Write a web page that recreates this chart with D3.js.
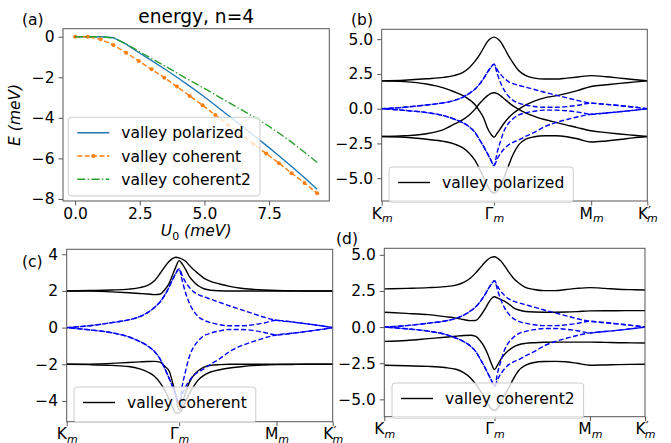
<!DOCTYPE html>
<html>
<head>
<meta charset="utf-8">
<script src="https://cdn.jsdelivr.net/npm/d3@7"></script>
<style>
body { margin: 0; background: #fff; }
svg { display: block; font-family: "DejaVu Sans", sans-serif; font-size: 15.5px; }
</style>
</head>
<body>
<div id="chart"></div>
<script>
// Panel (a): ground state energy vs U0
var u0 = [0, 0.49, 0.99, 1.48, 1.97, 2.46, 2.96, 3.45, 3.94, 4.43, 4.93, 5.42, 5.91, 6.4, 6.9, 7.39, 7.88, 8.37, 8.87, 9.36];
var ePolarized = [0, 0, 0, -0.05, -0.37, -0.78, -1.18, -1.58, -2.0, -2.44, -2.9, -3.38, -3.87, -4.36, -4.86, -5.36, -5.87, -6.4, -6.95, -7.52];
var eCoherent = [0, 0, -0.13, -0.41, -0.79, -1.2, -1.61, -2.02, -2.46, -2.92, -3.38, -3.86, -4.35, -4.81, -5.29, -5.76, -6.24, -6.73, -7.21, -7.72];
var eCoherent2 = [0, 0, 0, -0.06, -0.35, -0.72, -1.08, -1.43, -1.79, -2.15, -2.5, -2.86, -3.22, -3.58, -3.95, -4.33, -4.75, -5.2, -5.7, -6.2];
var xTicksA = [0, 2.5, 5, 7.5];
var yTicksA = [0, -2, -4, -6, -8];

// Band structure path Km - Gamma_m - Mm - K'm
var kGrid = [0, 0.2, 0.4, 0.55, 0.65, 0.72, 0.78, 0.83, 0.87, 0.91, 0.94, 0.97, 1.0, 1.03, 1.06, 1.09, 1.13, 1.17, 1.22, 1.28, 1.36, 1.45, 1.55, 1.65, 1.75, 1.866, 2.0, 2.12, 2.24, 2.366];
var kTicks = [0, 1, 1.866, 2.366];
var kTickNames = ["K", "Γ", "M", "K"];
var kTickPrime = [false, false, false, true];

// non-interacting bands (blue dashed), same in (b), (c), (d)
var dashUpA = [0, 0.1, 0.27, 0.42, 0.6, 0.82, 1.1, 1.4, 1.75, 2.2, 2.6, 2.95, 3.2, 2.8, 2.45, 2.2, 1.95, 1.8, 1.68, 1.55, 1.38, 1.18, 0.98, 0.78, 0.58, 0.4, 0.31, 0.22, 0.12, 0];
var dashUpB = [0, 0.1, 0.27, 0.42, 0.6, 0.82, 1.1, 1.4, 1.75, 2.2, 2.6, 2.95, 3.2, 2.5, 1.85, 1.35, 0.9, 0.6, 0.4, 0.27, 0.16, 0.1, 0.1, 0.15, 0.25, 0.4, 0.31, 0.22, 0.12, 0];
var dashLowA = [0, -0.12, -0.28, -0.5, -0.76, -1.0, -1.3, -1.7, -2.2, -2.75, -3.2, -3.65, -4.1, -3.6, -3.2, -2.9, -2.6, -2.42, -2.25, -2.0, -1.7, -1.3, -1.0, -0.78, -0.58, -0.4, -0.31, -0.22, -0.12, 0];
var dashLowB = [0, -0.12, -0.28, -0.5, -0.76, -1.0, -1.3, -1.7, -2.2, -2.75, -3.2, -3.65, -4.1, -3.1, -2.3, -1.6, -1.05, -0.72, -0.45, -0.3, -0.18, -0.1, -0.1, -0.15, -0.25, -0.4, -0.31, -0.22, -0.12, 0];

// (b) valley polarized
var polTop = [2.0, 2.05, 2.15, 2.25, 2.4, 2.6, 2.95, 3.4, 3.85, 4.4, 4.8, 5.05, 5.15, 5.05, 4.8, 4.4, 3.8, 3.3, 2.75, 2.4, 2.2, 2.13, 2.13, 2.2, 2.28, 2.38, 2.3, 2.2, 2.1, 2.0];
var polMidA = [2.0, 1.95, 1.78, 1.5, 1.2, 0.95, 0.65, 0.3, -0.15, -0.7, -1.35, -1.8, -2.05, -1.75, -1.4, -1.05, -0.65, -0.35, -0.05, 0.25, 0.55, 0.78, 0.92, 1.1, 1.32, 1.6, 1.72, 1.82, 1.91, 2.0];
var polMidB = [-2.0, -1.95, -1.8, -1.5, -1.1, -0.8, -0.45, -0.05, 0.35, 0.7, 0.92, 1.08, 1.15, 1.08, 0.92, 0.72, 0.45, 0.2, -0.05, -0.3, -0.55, -0.78, -0.98, -1.18, -1.38, -1.59, -1.72, -1.82, -1.91, -2.0];
var polBot = [-2.0, -2.05, -2.2, -2.35, -2.55, -2.8, -3.2, -3.7, -4.3, -5.0, -5.5, -5.9, -6.08, -5.9, -5.5, -4.95, -4.1, -3.3, -2.6, -2.2, -2.02, -1.95, -1.95, -2.02, -2.18, -2.4, -2.32, -2.22, -2.1, -2.0];

// (c) valley coherent
var cohTop1 = [2.0, 2.02, 2.05, 2.1, 2.18, 2.3, 2.55, 2.95, 3.3, 3.6, 3.76, 3.84, 3.8, 3.72, 3.6, 3.4, 3.15, 2.95, 2.7, 2.52, 2.38, 2.25, 2.15, 2.09, 2.05, 2.02, 2.01, 2.0, 2.0, 2.0];
var cohTop2 = [2.0, 1.99, 1.95, 1.9, 1.86, 1.83, 1.8, 1.82, 2.05, 2.4, 2.85, 3.3, 3.65, 3.45, 3.15, 2.8, 2.5, 2.28, 2.12, 2.04, 2.01, 2.0, 2.0, 2.0, 2.0, 2.0, 2.0, 2.0, 2.0, 2.0];
var cohBot1 = [-2.0, -1.99, -1.95, -1.9, -1.87, -1.85, -1.84, -1.88, -2.1, -2.35, -2.95, -3.7, -4.5, -4.1, -3.5, -3.0, -2.6, -2.35, -2.15, -2.06, -2.02, -2.0, -2.0, -2.0, -2.0, -2.0, -2.0, -2.0, -2.0, -2.0];
var cohBot2 = [-2.0, -2.02, -2.06, -2.12, -2.25, -2.42, -2.65, -3.0, -3.4, -3.9, -4.3, -4.65, -4.65, -4.4, -4.0, -3.6, -3.2, -2.85, -2.6, -2.42, -2.3, -2.2, -2.13, -2.07, -2.04, -2.02, -2.01, -2.0, -2.0, -2.0];

// (d) valley coherent2
var coh2Top = [2.64, 2.68, 2.73, 2.8, 2.9, 3.1, 3.38, 3.75, 4.1, 4.45, 4.68, 4.82, 4.87, 4.75, 4.55, 4.25, 3.8, 3.4, 3.05, 2.75, 2.6, 2.52, 2.52, 2.6, 2.68, 2.73, 2.68, 2.62, 2.59, 2.57];
var coh2MidUp = [1.03, 0.95, 0.86, 0.72, 0.62, 0.52, 0.45, 0.46, 0.75, 1.2, 1.6, 1.95, 2.1, 2.0, 1.9, 1.8, 1.6, 1.35, 1.18, 1.08, 1.04, 1.03, 1.03, 1.04, 1.07, 1.12, 1.13, 1.13, 1.14, 1.14];
var coh2MidLow = [-0.99, -0.93, -0.8, -0.7, -0.63, -0.58, -0.57, -0.65, -0.95, -1.4, -1.9, -2.5, -2.94, -2.6, -2.2, -1.9, -1.6, -1.38, -1.22, -1.13, -1.08, -1.05, -1.04, -1.04, -1.04, -1.04, -1.06, -1.08, -1.09, -1.1];
var coh2Bot = [-2.64, -2.68, -2.72, -2.8, -2.92, -3.15, -3.5, -3.95, -4.4, -4.85, -5.3, -5.65, -5.77, -5.6, -5.2, -4.75, -4.2, -3.6, -3.0, -2.65, -2.45, -2.38, -2.37, -2.4, -2.5, -2.64, -2.62, -2.6, -2.58, -2.57];

var yTicksB = [-5, -2.5, 0, 2.5, 5];
var yTicksC = [-4, -2, 0, 2, 4];

var svg = d3.select("#chart").append("svg")
    .attr("width", 671)
    .attr("height", 443);

var defs = svg.append("defs");

// Frame, ticks and clip for one panel
function makeAxes(id, box, x, y, xTicks, yTicks, xFmt, yFmt) {
    var g = svg.append("g").attr("class", "panel-" + id);

    defs.append("clipPath").attr("id", "clip-" + id)
        .append("rect")
        .attr("x", box.left).attr("y", box.top)
        .attr("width", box.right - box.left)
        .attr("height", box.bottom - box.top);

    var xAxis = g.append("g")
        .attr("transform", "translate(0," + box.bottom + ")")
        .call(d3.axisBottom(x).tickValues(xTicks).tickSize(4.5).tickPadding(2).tickFormat(xFmt));
    var yAxis = g.append("g")
        .attr("transform", "translate(" + box.left + ",0)")
        .call(d3.axisLeft(y).tickValues(yTicks).tickSize(4.5).tickPadding(4).tickFormat(yFmt));

    [xAxis, yAxis].forEach(function(a) {
        a.attr("font-size", null).attr("font-family", null);
        a.select(".domain").remove();
        a.selectAll(".tick line").attr("stroke", "#444").attr("stroke-width", 0.9);
        a.selectAll(".tick text").attr("fill", "#000");
    });

    var plot = g.append("g").attr("clip-path", "url(#clip-" + id + ")");

    return { g: g, plot: plot, xAxis: xAxis };
}

function drawFrame(g, box) {
    g.append("rect")
        .attr("x", box.left).attr("y", box.top)
        .attr("width", box.right - box.left)
        .attr("height", box.bottom - box.top)
        .attr("fill", "none")
        .attr("stroke", "#555")
        .attr("stroke-width", 1);
}

// Legend box, white at 0.8 like matplotlib
function drawLegend(g, x0, yTop, rowH, entries) {
    var lg = g.append("g");
    var bg = lg.append("rect");
    var maxW = 0;
    entries.forEach(function(e, i) {
        var yc = yTop + 15.5 + i * rowH;
        var t = lg.append("text")
            .attr("x", x0 + 53)
            .attr("y", yc + 5.5)
            .text(e.label);
        maxW = Math.max(maxW, t.node().getComputedTextLength());
        e.sample(lg, x0 + 9, x0 + 41, yc);
    });
    var h = 8 + entries.length * rowH + (entries.length > 1 ? 1 : 4);
    bg.attr("x", x0).attr("y", yTop)
        .attr("width", 53 + maxW + 9)
        .attr("height", h)
        .attr("rx", 3)
        .attr("fill", "#fff")
        .attr("fill-opacity", 0.8)
        .attr("stroke", "#ccc")
        .attr("stroke-width", 1);
    lg.raise();
}

function panelLabel(x, y, s) {
    svg.append("text").attr("x", x).attr("y", y).text(s);
}

// ---------- panel (a) ----------
var boxA = { left: 63, right: 329.3, top: 28.7, bottom: 201 };
var xA = d3.scaleLinear().domain([-0.468, 9.828]).range([boxA.left, boxA.right]);
var yA = d3.scaleLinear().domain([-8.1, 0.394]).range([boxA.bottom, boxA.top]);
var pa = makeAxes("a", boxA, xA, yA, xTicksA, yTicksA, d3.format(".1f"), d3.format("d"));

var lineA = d3.line().x(function(d) { return xA(d[0]); }).y(function(d) { return yA(d[1]); });

pa.plot.append("path")
    .datum(d3.zip(u0, ePolarized))
    .attr("d", lineA)
    .attr("fill", "none").attr("stroke", "#1f77b4").attr("stroke-width", 1.4);

pa.plot.append("path")
    .datum(d3.zip(u0, eCoherent))
    .attr("d", lineA)
    .attr("fill", "none").attr("stroke", "#ff7f0e").attr("stroke-width", 1.4)
    .attr("stroke-dasharray", "5,2.4");

pa.plot.selectAll(".dot")
    .data(d3.zip(u0, eCoherent))
    .enter().append("circle")
    .attr("class", "dot")
    .attr("cx", function(d) { return xA(d[0]); })
    .attr("cy", function(d) { return yA(d[1]); })
    .attr("r", 2)
    .attr("fill", "#ff7f0e");

pa.plot.append("path")
    .datum(d3.zip(u0, eCoherent2))
    .attr("d", lineA)
    .attr("fill", "none").attr("stroke", "#2ca02c").attr("stroke-width", 1.4)
    .attr("stroke-dasharray", "8,2.4,1.4,2.4");

drawFrame(pa.g, boxA);

drawLegend(pa.g, 68.3, 117.3, 23.2, [
    { label: "valley polarized", sample: function(g, x1, x2, y) {
        g.append("line").attr("x1", x1).attr("x2", x2).attr("y1", y).attr("y2", y)
            .attr("stroke", "#1f77b4").attr("stroke-width", 1.4);
    } },
    { label: "valley coherent", sample: function(g, x1, x2, y) {
        g.append("line").attr("x1", x1).attr("x2", x2).attr("y1", y).attr("y2", y)
            .attr("stroke", "#ff7f0e").attr("stroke-width", 1.4).attr("stroke-dasharray", "5,2.4");
        g.append("circle").attr("cx", (x1 + x2) / 2).attr("cy", y).attr("r", 2).attr("fill", "#ff7f0e");
    } },
    { label: "valley coherent2", sample: function(g, x1, x2, y) {
        g.append("line").attr("x1", x1).attr("x2", x2).attr("y1", y).attr("y2", y)
            .attr("stroke", "#2ca02c").attr("stroke-width", 1.4).attr("stroke-dasharray", "8,2.4,1.4,2.4");
    } }
]);

// title and axis labels
svg.append("text")
    .attr("x", (boxA.left + boxA.right) / 2).attr("y", 23)
    .attr("text-anchor", "middle").attr("font-size", 18.6)
    .text("energy, n=4");

var xlab = svg.append("text")
    .attr("x", (boxA.left + boxA.right) / 2).attr("y", 236)
    .attr("text-anchor", "middle");
xlab.append("tspan").attr("font-style", "italic").text("U");
xlab.append("tspan").attr("dy", 4).attr("font-size", 11).text("0");
xlab.append("tspan").attr("dy", -4).attr("font-style", "italic").text(" (meV)");

svg.append("text")
    .attr("transform", "translate(20," + (boxA.top + boxA.bottom) / 2 + ") rotate(-90)")
    .attr("text-anchor", "middle")
    .attr("font-style", "italic")
    .text("E (meV)");

panelLabel(22, 25, "(a)");

// ---------- band panels ----------
function kLabels(axisG) {
    axisG.selectAll(".tick text").each(function(d, i) {
        var t = d3.select(this).text("");
        t.append("tspan").text(kTickNames[i]);
        if (kTickPrime[i]) {
            t.append("tspan").attr("dy", -4).attr("font-size", 13).text("′");
            t.append("tspan").attr("dx", -4).attr("dy", 7.5).attr("font-size", 11)
                .attr("font-style", "italic").text("m");
        } else {
            t.append("tspan").attr("dy", 3.5).attr("font-size", 11)
                .attr("font-style", "italic").text("m");
        }
    });
}

function bandPanel(id, box, yDomain, yTicks, yFmt, blackBands, legendLabel, legendPos) {
    var x = d3.scaleLinear().domain([0, 2.366]).range([box.left, box.right]);
    var y = d3.scaleLinear().domain(yDomain).range([box.bottom, box.top]);
    var p = makeAxes(id, box, x, y, kTicks, yTicks, function() { return ""; }, yFmt);
    kLabels(p.xAxis);

    var line = d3.line()
        .x(function(d) { return x(d[0]); })
        .y(function(d) { return y(d[1]); })
        .curve(d3.curveMonotoneX);

    blackBands.forEach(function(band) {
        p.plot.append("path")
            .datum(d3.zip(kGrid, band))
            .attr("d", line)
            .attr("fill", "none").attr("stroke", "#000").attr("stroke-width", 1.4);
    });

    [dashUpA, dashUpB, dashLowA, dashLowB].forEach(function(band, i) {
        p.plot.append("path")
            .datum(d3.zip(kGrid, band))
            .attr("d", line)
            .attr("fill", "none").attr("stroke", "#0000ff").attr("stroke-width", 1.4)
            .attr("stroke-dasharray", "5,2.4")
            .attr("stroke-dashoffset", i * 1.7);
    });

    drawFrame(p.g, box);

    drawLegend(p.g, legendPos[0], legendPos[1], 23.2, [
        { label: legendLabel, sample: function(g, x1, x2, yy) {
            g.append("line").attr("x1", x1).attr("x2", x2).attr("y1", yy).attr("y2", yy)
                .attr("stroke", "#000").attr("stroke-width", 1.4);
        } }
    ]);
}

var fmtHalf = d3.format(".1f");

bandPanel("b", { left: 381.7, right: 647.3, top: 29.3, bottom: 201 },
    [-6.64, 5.71], yTicksB, fmtHalf,
    [polTop, polMidA, polMidB, polBot], "valley polarized", [389, 167]);
panelLabel(351, 25, "(b)");

bandPanel("c", { left: 66.7, right: 332.7, top: 249.3, bottom: 421.7 },
    [-5.13, 4.27], yTicksC, d3.format("d"),
    [cohTop1, cohTop2, cohBot1, cohBot2], "valley coherent", [74, 387]);
panelLabel(22, 267, "(c)");

bandPanel("d", { left: 384.3, right: 645, top: 248.3, bottom: 416.7 },
    [-6.2, 5.45], yTicksB, fmtHalf,
    [coh2Top, coh2MidUp, coh2MidLow, coh2Bot], "valley coherent2", [392, 383]);
panelLabel(336, 244, "(d)");
</script>
</body>
</html>
